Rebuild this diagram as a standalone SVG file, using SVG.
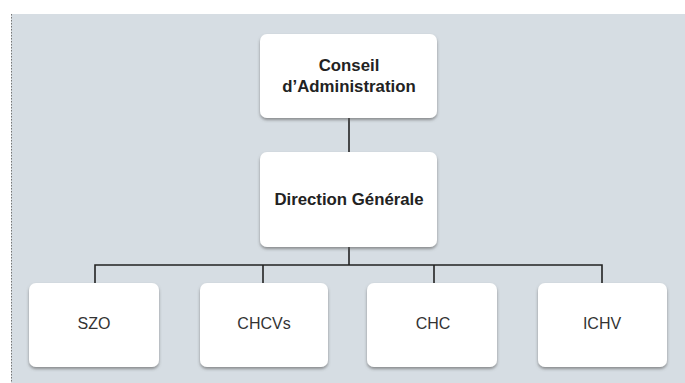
<svg xmlns="http://www.w3.org/2000/svg" width="685" height="383" viewBox="0 0 685 383">
<defs>
<filter id="sh" x="-10%" y="-10%" width="120%" height="130%">
<feDropShadow dx="0" dy="2" stdDeviation="1.5" flood-color="#555" flood-opacity="0.6"/>
</filter>
<style>
.box{fill:#ffffff;filter:url(#sh);}
.t{font-family:"Liberation Sans",Arial,sans-serif;fill:#222;text-anchor:middle;dominant-baseline:central;}
.b{font-weight:bold;font-size:16.8px;}
.r{font-size:16px;fill:#333;}
.ln{stroke:#222;stroke-width:1.6;fill:none;}
</style>
</defs>
<rect x="0" y="0" width="685" height="383" fill="#ffffff"/>
<rect x="11" y="14" width="674" height="369" fill="#d6dde3"/>
<line x1="11.5" y1="14" x2="11.5" y2="383" stroke="#777" stroke-width="1" stroke-dasharray="1.5,1.5"/>
<g id="connectors">
<path class="ln" d="M349 118 V152"/>
<path class="ln" d="M349 247 V265"/>
<path class="ln" d="M95 283 V265 H602 V283"/>
<path class="ln" d="M263 265 V283"/>
<path class="ln" d="M434 265 V283"/>
</g>
<g id="conseil">
<rect class="box" x="260" y="34" width="177" height="84" rx="7"/>
<text class="t b" x="349" y="65">Conseil</text>
<text class="t b" x="349" y="86">d’Administration</text>
</g>
<g id="direction">
<rect class="box" x="260" y="152" width="177" height="95" rx="7"/>
<text class="t b" x="349" y="199">Direction Générale</text>
</g>
<g id="szo">
<rect class="box" x="29" y="283" width="130" height="84" rx="7"/>
<text class="t r" x="94" y="323">SZO</text>
</g>
<g id="chcvs">
<rect class="box" x="200" y="283" width="128" height="84" rx="7"/>
<text class="t r" x="264" y="323">CHCVs</text>
</g>
<g id="chc">
<rect class="box" x="367" y="283" width="130" height="84" rx="7"/>
<text class="t r" x="433" y="323">CHC</text>
</g>
<g id="ichv">
<rect class="box" x="538" y="283" width="129" height="84" rx="7"/>
<text class="t r" x="602" y="323">ICHV</text>
</g>
</svg>
